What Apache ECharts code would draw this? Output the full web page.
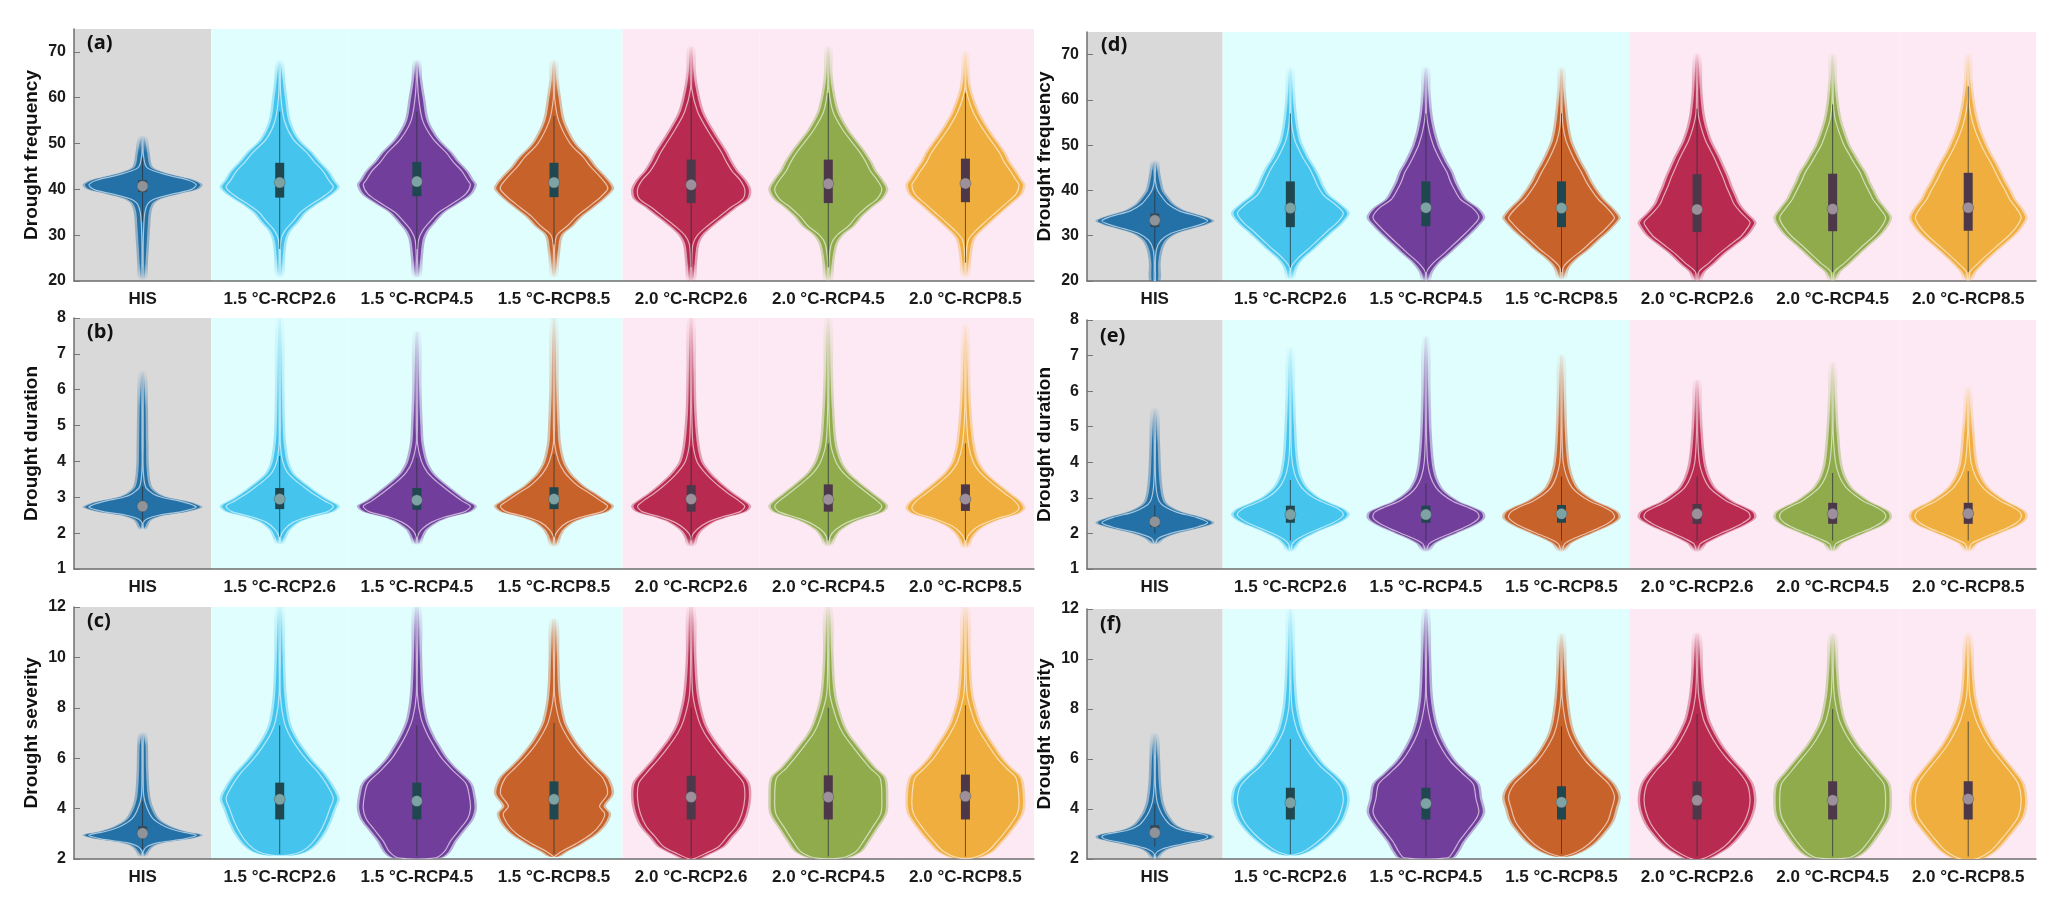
<!DOCTYPE html>
<html><head><meta charset="utf-8">
<script src="https://cdn.jsdelivr.net/npm/echarts@6/dist/echarts.min.js"></script>
<style>html,body{margin:0;padding:0;background:#fff}#c{width:2068px;height:916px}</style>
</head><body><div id="c"></div><script>
// ---------- categories / labels ----------
const categories = ['HIS','1.5 °C-RCP2.6','1.5 °C-RCP4.5','1.5 °C-RCP8.5','2.0 °C-RCP2.6','2.0 °C-RCP4.5','2.0 °C-RCP8.5'];
const categoryGroup = [0,1,1,1,2,2,2];
const panelTags = ['(a)','(b)','(c)','(d)','(e)','(f)'];
const yNames = ['Drought frequency','Drought duration','Drought severity'];
const freqTicks = [20,30,40,50,60,70];
const freqAxisMax = 75;
const durTicks = [1,2,3,4,5,6,7,8];
const sevTicks = [2,4,6,8,10,12];

// ---------- violin profiles: [value, relative half-width] ----------
const freqLeftProfiles = [
 [[20.5,0.03],[24,0.05],[28,0.07],[32,0.09],[35,0.11],[37,0.17],[38,0.3],[39,0.6],[40,0.92],[41,1.0],[42,0.87],[43,0.54],[44,0.27],[45,0.13],[48,0.08],[51.5,0.03]],
 [[21,0.03],[25,0.05],[29,0.09],[31,0.16],[33,0.3],[35,0.43],[37,0.65],[39,0.89],[40.5,1.0],[42,0.92],[44,0.82],[46,0.67],[48,0.54],[51,0.3],[55,0.15],[60,0.09],[64,0.05],[68,0.02]],
 [[21,0.03],[25,0.06],[29,0.1],[31,0.17],[33,0.3],[35,0.45],[37,0.7],[39,0.92],[41,1.0],[42,0.95],[44,0.85],[46,0.7],[48,0.58],[51,0.35],[55,0.17],[60,0.1],[64,0.05],[68,0.02]],
 [[21,0.02],[23,0.04],[27,0.07],[30,0.12],[32,0.3],[34,0.45],[36,0.65],[38,0.85],[40,1.0],[41,0.98],[43,0.85],[45,0.7],[47,0.58],[50,0.35],[55,0.15],[60,0.08],[64,0.04],[68,0.02]],
 [[20,0.03],[24,0.06],[28,0.1],[30,0.18],[32,0.35],[34,0.55],[36,0.75],[38,0.97],[40,1.0],[42,0.92],[44,0.78],[46,0.68],[48,0.6],[50,0.5],[53,0.35],[57,0.18],[62,0.08],[66,0.04],[71,0.02]],
 [[20,0.03],[24,0.06],[28,0.12],[30,0.22],[32,0.42],[34,0.55],[36,0.72],[38,0.92],[40,1.0],[42,0.92],[44,0.8],[46,0.72],[48,0.62],[50,0.5],[53,0.32],[57,0.15],[62,0.06],[66,0.03],[71,0.02]],
 [[21,0.03],[25,0.06],[29,0.12],[31,0.25],[33,0.42],[35,0.6],[37,0.78],[39,0.95],[41,1.0],[42,0.95],[44,0.85],[46,0.74],[48,0.66],[50,0.55],[53,0.38],[57,0.2],[62,0.06],[66,0.03],[70,0.02]]
];
const durLeftProfiles = [
 [[2.1,0.02],[2.2,0.05],[2.3,0.08],[2.4,0.15],[2.5,0.35],[2.6,0.75],[2.72,1.0],[2.8,0.92],[2.9,0.7],[3.0,0.4],[3.1,0.25],[3.3,0.12],[3.8,0.07],[4.5,0.06],[5.5,0.05],[6.5,0.02]],
 [[1.7,0.03],[1.9,0.08],[2.1,0.15],[2.3,0.3],[2.45,0.55],[2.6,0.9],[2.75,1.0],[2.9,0.85],[3.1,0.65],[3.3,0.48],[3.5,0.32],[3.7,0.2],[4.0,0.12],[4.5,0.07],[5.0,0.05],[6.0,0.04],[8,0.02]],
 [[1.7,0.03],[1.9,0.08],[2.1,0.15],[2.3,0.32],[2.45,0.55],[2.6,0.9],[2.75,1.0],[2.9,0.85],[3.1,0.68],[3.3,0.52],[3.5,0.37],[3.7,0.25],[4.0,0.15],[4.5,0.08],[5.0,0.06],[6.0,0.04],[7.6,0.02]],
 [[1.65,0.03],[1.9,0.08],[2.1,0.15],[2.3,0.3],[2.45,0.55],[2.6,0.9],[2.75,1.0],[2.9,0.88],[3.1,0.7],[3.3,0.5],[3.5,0.36],[3.7,0.25],[4.0,0.15],[4.5,0.08],[5.0,0.06],[6.0,0.04],[8,0.02]],
 [[1.65,0.03],[1.9,0.08],[2.1,0.17],[2.3,0.35],[2.45,0.6],[2.6,0.92],[2.75,1.0],[2.9,0.9],[3.1,0.72],[3.3,0.56],[3.5,0.42],[3.7,0.3],[4.0,0.17],[4.5,0.1],[5.5,0.05],[6.5,0.04],[8,0.02]],
 [[1.65,0.03],[1.9,0.1],[2.1,0.2],[2.3,0.4],[2.45,0.65],[2.6,0.93],[2.75,1.0],[2.9,0.92],[3.1,0.76],[3.3,0.6],[3.5,0.45],[3.7,0.32],[4.0,0.2],[4.5,0.11],[5.5,0.06],[6.5,0.04],[8,0.02]],
 [[1.6,0.03],[1.8,0.07],[2.0,0.15],[2.2,0.3],[2.4,0.6],[2.55,0.9],[2.7,1.0],[2.9,0.92],[3.1,0.76],[3.3,0.6],[3.5,0.45],[3.7,0.32],[4.0,0.2],[4.5,0.12],[5.5,0.06],[6.5,0.04],[7.8,0.02]]
];
const sevLeftProfiles = [
 [[2.1,0.03],[2.3,0.07],[2.5,0.15],[2.65,0.35],[2.8,0.8],[2.95,1.0],[3.1,0.7],[3.3,0.45],[3.6,0.25],[4.0,0.15],[4.5,0.09],[5.5,0.06],[6.5,0.05],[7,0.02]],
 [[2.15,0.22],[2.3,0.45],[2.6,0.62],[3.0,0.75],[3.5,0.86],[4.0,0.94],[4.4,1.0],[4.9,0.9],[5.4,0.75],[5.9,0.55],[6.4,0.38],[7.0,0.22],[7.5,0.14],[8.5,0.08],[10,0.05],[12,0.03]],
 [[2.05,0.4],[2.3,0.55],[2.7,0.65],[3.2,0.82],[3.6,0.95],[4.0,1.0],[4.5,0.98],[5.0,0.92],[5.5,0.7],[6.0,0.5],[6.5,0.36],[7.0,0.24],[7.6,0.14],[8.5,0.08],[10,0.05],[12,0.03]],
 [[2.1,0.06],[2.3,0.2],[2.6,0.45],[3.0,0.72],[3.4,0.88],[3.8,0.95],[4.1,0.86],[4.6,1.0],[5.2,0.92],[5.6,0.75],[6.0,0.58],[6.5,0.4],[7.0,0.26],[7.5,0.16],[8.5,0.08],[10,0.05],[11.5,0.03]],
 [[2.0,0.1],[2.2,0.3],[2.5,0.55],[2.9,0.7],[3.3,0.85],[3.8,0.95],[4.4,1.0],[5.0,0.98],[5.4,0.85],[6.0,0.62],[6.5,0.45],[7.0,0.3],[7.5,0.2],[8.5,0.1],[10,0.05],[12,0.03]],
 [[2.05,0.3],[2.3,0.55],[2.7,0.68],[3.2,0.82],[3.8,0.98],[4.3,1.0],[5.2,0.97],[5.6,0.8],[6.0,0.65],[6.5,0.48],[7.0,0.32],[7.5,0.22],[8.5,0.1],[10,0.05],[12,0.03]],
 [[2.05,0.2],[2.3,0.45],[2.7,0.62],[3.2,0.8],[3.8,0.97],[4.3,1.0],[5.2,0.95],[5.6,0.78],[6.0,0.62],[6.5,0.47],[7.0,0.33],[7.5,0.22],[8.5,0.1],[10,0.05],[12,0.03]]
];
const freqRightProfiles = [
 [[20,0.05],[24,0.06],[27,0.1],[29,0.18],[30.5,0.35],[31.5,0.6],[32.5,0.88],[33.3,1.0],[34.2,0.85],[35.5,0.5],[37,0.3],[38.5,0.2],[40,0.12],[42,0.08],[44,0.05],[46.5,0.02]],
 [[20.5,0.03],[23,0.08],[25,0.2],[27,0.38],[29,0.55],[31,0.72],[33,0.9],[35,1.0],[37,0.85],[39,0.65],[41,0.55],[43,0.48],[45,0.4],[47,0.3],[49,0.22],[51,0.15],[54,0.1],[58,0.06],[62,0.04],[67,0.02]],
 [[20,0.03],[22,0.08],[24,0.2],[26,0.38],[28,0.55],[30,0.72],[32,0.88],[34,1.0],[36,0.9],[38,0.68],[40,0.58],[42,0.5],[44,0.44],[46,0.35],[48,0.27],[50,0.2],[53,0.13],[57,0.07],[62,0.04],[67,0.02]],
 [[20.5,0.03],[23,0.1],[25,0.25],[27,0.45],[29,0.62],[31,0.8],[33,0.95],[34,1.0],[36,0.88],[38,0.72],[40,0.6],[42,0.5],[44,0.42],[46,0.33],[48,0.25],[51,0.15],[54,0.1],[58,0.06],[63,0.03],[67,0.02]],
 [[20,0.03],[22,0.1],[24,0.28],[26,0.45],[28,0.65],[30,0.85],[32,0.97],[33,1.0],[35,0.85],[37,0.72],[39,0.65],[41,0.58],[43,0.52],[45,0.45],[47,0.38],[49,0.3],[51,0.22],[54,0.14],[57,0.09],[62,0.05],[70,0.02]],
 [[20,0.03],[22,0.1],[24,0.28],[26,0.45],[28,0.62],[30,0.8],[32,0.93],[34,1.0],[36,0.9],[38,0.78],[40,0.7],[42,0.62],[44,0.55],[46,0.45],[48,0.36],[50,0.27],[53,0.18],[56,0.11],[60,0.06],[65,0.03],[70,0.02]],
 [[20,0.03],[22,0.1],[24,0.25],[26,0.42],[28,0.6],[30,0.78],[32,0.92],[34,1.0],[36,0.92],[38,0.8],[40,0.72],[42,0.63],[44,0.55],[46,0.47],[48,0.38],[50,0.3],[53,0.2],[56,0.13],[60,0.07],[65,0.03],[70,0.02]]
];
const durRightProfiles = [
 [[1.7,0.03],[1.85,0.12],[2.0,0.35],[2.15,0.75],[2.3,1.0],[2.45,0.8],[2.6,0.45],[2.75,0.25],[2.9,0.15],[3.2,0.1],[3.7,0.07],[4.5,0.05],[5.5,0.02]],
 [[1.5,0.03],[1.7,0.1],[1.85,0.2],[2.0,0.38],[2.15,0.6],[2.3,0.82],[2.45,0.97],[2.55,1.0],[2.7,0.9],[2.85,0.68],[3.0,0.48],[3.2,0.32],[3.4,0.22],[3.7,0.14],[4.2,0.09],[5,0.06],[6,0.04],[7.2,0.02]],
 [[1.5,0.03],[1.7,0.12],[1.85,0.28],[2.0,0.5],[2.15,0.72],[2.3,0.9],[2.45,1.0],[2.6,0.97],[2.75,0.78],[2.9,0.55],[3.1,0.36],[3.3,0.24],[3.6,0.15],[4.0,0.1],[4.8,0.06],[6,0.04],[7.5,0.02]],
 [[1.5,0.03],[1.7,0.12],[1.85,0.28],[2.0,0.5],[2.15,0.72],[2.3,0.9],[2.45,1.0],[2.6,0.96],[2.75,0.8],[2.9,0.58],[3.1,0.38],[3.3,0.25],[3.6,0.16],[4.0,0.1],[4.8,0.06],[6,0.04],[7,0.02]],
 [[1.5,0.03],[1.7,0.12],[1.85,0.28],[2.0,0.48],[2.15,0.7],[2.3,0.88],[2.45,1.0],[2.6,0.97],[2.75,0.8],[2.9,0.6],[3.1,0.42],[3.3,0.28],[3.6,0.18],[4.0,0.11],[4.8,0.06],[5.6,0.04],[6.3,0.02]],
 [[1.5,0.03],[1.7,0.12],[1.85,0.3],[2.0,0.52],[2.15,0.75],[2.3,0.92],[2.45,1.0],[2.6,0.97],[2.75,0.82],[2.9,0.62],[3.1,0.44],[3.3,0.3],[3.6,0.19],[4.0,0.12],[4.8,0.07],[5.8,0.04],[6.8,0.02]],
 [[1.5,0.03],[1.7,0.12],[1.85,0.3],[2.0,0.52],[2.15,0.75],[2.3,0.92],[2.45,1.0],[2.6,0.98],[2.75,0.84],[2.9,0.65],[3.1,0.46],[3.3,0.32],[3.6,0.2],[4.0,0.12],[4.8,0.07],[5.5,0.04],[6.1,0.02]]
];
const sevRightProfiles = [
 [[2.0,0.03],[2.2,0.08],[2.4,0.2],[2.6,0.55],[2.8,0.95],[2.9,1.0],[3.0,0.9],[3.15,0.55],[3.35,0.35],[3.6,0.25],[3.9,0.17],[4.3,0.11],[5,0.07],[6,0.05],[7,0.02]],
 [[2.15,0.1],[2.3,0.3],[2.6,0.5],[3.0,0.7],[3.5,0.88],[4.0,0.97],[4.4,1.0],[4.9,0.95],[5.3,0.8],[5.7,0.6],[6.2,0.42],[6.7,0.28],[7.2,0.18],[8,0.1],[9,0.06],[10.5,0.04],[12,0.02]],
 [[2.05,0.45],[2.3,0.55],[2.7,0.65],[3.2,0.82],[3.6,0.95],[3.9,1.0],[4.4,0.95],[5.0,0.9],[5.4,0.72],[5.9,0.5],[6.4,0.35],[7.0,0.22],[7.6,0.14],[8.5,0.08],[10,0.05],[12,0.02]],
 [[2.1,0.1],[2.3,0.35],[2.6,0.55],[3.0,0.72],[3.5,0.88],[4.0,0.95],[4.5,1.0],[5.0,0.9],[5.4,0.72],[5.9,0.5],[6.4,0.34],[7.0,0.2],[7.6,0.13],[8.5,0.08],[9.5,0.05],[11,0.02]],
 [[2.0,0.15],[2.2,0.35],[2.5,0.55],[2.9,0.72],[3.4,0.88],[3.9,0.97],[4.4,1.0],[5.0,0.95],[5.5,0.8],[6.0,0.6],[6.5,0.43],[7.0,0.3],[7.6,0.18],[8.5,0.1],[9.5,0.06],[11,0.03]],
 [[2.05,0.35],[2.3,0.55],[2.7,0.7],[3.2,0.85],[3.7,0.97],[4.3,1.0],[5.0,0.97],[5.5,0.8],[6.0,0.62],[6.5,0.44],[7.0,0.3],[7.6,0.18],[8.5,0.1],[9.5,0.06],[11,0.03]],
 [[2.0,0.2],[2.3,0.45],[2.7,0.62],[3.2,0.8],[3.7,0.95],[4.3,1.0],[5.0,0.95],[5.5,0.8],[6.0,0.62],[6.5,0.45],[7.0,0.32],[7.6,0.2],[8.5,0.1],[9.5,0.06],[11,0.03]]
];

// ---------- box stats: [whiskerLow, q1, median, q3, whiskerHigh] ----------
const freqLeftBoxes = [[33,39.4,40.7,42,47],[27,38.2,41.5,45.8,57],[27,38.5,41.7,46,57],[28,38.3,41.5,45.8,56],[23,37,41,46.5,60],[23,37,41.2,46.5,61],[24,37.2,41.3,46.7,61]];
const durLeftBoxes = [[2.3,2.64,2.75,2.87,3.3],[1.9,2.67,2.95,3.26,4.15],[1.9,2.65,2.92,3.26,4.1],[1.9,2.67,2.95,3.28,4.2],[1.8,2.6,2.95,3.34,4.4],[1.8,2.6,2.94,3.36,4.5],[1.8,2.62,2.95,3.36,4.5]];
const sevLeftBoxes = [[2.4,2.93,3.02,3.3,4.3],[2.2,3.57,4.37,5.03,7.3],[2.1,3.57,4.3,5.03,7.3],[2.2,3.57,4.37,5.08,7.4],[2.1,3.57,4.46,5.3,8.0],[2.1,3.57,4.46,5.32,8.0],[2.1,3.57,4.49,5.35,8.1]];
const freqRightBoxes = [[27,31.9,33.4,34.9,40],[23,31.9,36.1,42,57],[22,32.1,36.2,42,57],[22,31.9,36.1,42,57],[22,30.8,35.8,43.6,58],[22,31,35.9,43.7,59],[22,31.1,36.2,43.9,63]];
const durRightBoxes = [[2.0,2.18,2.33,2.44,2.8],[1.8,2.3,2.53,2.78,3.5],[1.8,2.3,2.53,2.78,3.4],[1.8,2.3,2.55,2.8,3.6],[1.8,2.27,2.55,2.83,3.6],[1.8,2.27,2.55,2.86,3.7],[1.8,2.27,2.56,2.86,3.75]];
const sevRightBoxes = [[2.5,2.95,3.05,3.35,4.2],[2.2,3.58,4.25,4.85,6.8],[2.1,3.58,4.22,4.85,6.8],[2.2,3.58,4.27,4.91,7.3],[2.1,3.58,4.35,5.1,7.8],[2.1,3.58,4.35,5.11,8.0],[2.1,3.58,4.4,5.11,7.5]];

// ---------- styles ----------
const violinColors = ['#2471a8','#45c5ee','#723e9c','#c8622b','#b82a50','#8fab4b','#f0ae3f'];
const groupBg = ['#d9d9d9','#e0fefe','#fde9f3'];
const groupBox = ['#34495a','#1f4750','#4c3849'];
const groupMedian = ['#8e9499','#7ea3a4','#9d909b'];
const FONT = '"Liberation Sans", Arial, sans-serif';

function hexA(hex,a){const n=parseInt(hex.slice(1),16);return 'rgba('+((n>>16)&255)+','+((n>>8)&255)+','+(n&255)+','+a+')';}

function makeViolin(profiles, boxes){
  return function(params, api){
    const k = api.value(0);
    const prof = profiles[k], bx = boxes[k];
    const band = api.size([1,0])[0];
    const maxHalf = band*0.42;
    const cx = api.coord([k, prof[0][0]])[0];
    const pts = prof.map(p=>[api.coord([k,p[0]])[1], p[1]*maxHalf]);
    const yBot = pts[0][0], yTop = pts[pts.length-1][0];
    let iHi = prof.length-1; while(iHi>0 && prof[iHi][1]<0.05) iHi--;
    let iLo = 0; while(iLo<prof.length-1 && prof[iLo][1]<0.05) iLo++;
    const span = yBot - yTop;
    const oTop = Math.max(0.001,(pts[iHi][0]-yTop)/span), oBot = Math.min(0.999,(pts[iLo][0]-yTop)/span);
    const grad = (c,a)=> new echarts.graphic.LinearGradient(0,0,0,1,[
      {offset:0,color:hexA(c,a*0.08)},{offset:oTop,color:hexA(c,a)},
      {offset:Math.max(oTop,oBot),color:hexA(c,a)},{offset:1,color:hexA(c,a*0.08)}]);
    const outline = (d)=>{const r=[],l=[];
      pts.forEach(p=>r.push([cx+Math.max(0.6,p[1]+d),p[0]]));
      for(let i=pts.length-1;i>=0;i--) l.push([cx-Math.max(0.6,pts[i][1]+d),pts[i][0]]);
      return r.concat(l);};
    const col = violinColors[k], g = categoryGroup[k];
    const w0 = api.coord([k,bx[0]]), w1 = api.coord([k,bx[4]]);
    const q1 = api.coord([k,bx[1]]), q3 = api.coord([k,bx[3]]), md = api.coord([k,bx[2]]);
    return {type:'group', children:[
      {type:'polygon', shape:{points:outline(2.5), smooth:0.3}, style:{fill:grad(col,0.4)}},
      {type:'polygon', shape:{points:outline(0), smooth:0.3}, style:{fill:grad(col,1)}},
      {type:'polygon', shape:{points:outline(-4), smooth:0.3}, style:{fill:null, stroke:grad('#ffffff',0.6), lineWidth:1.2}},
      {type:'line', shape:{x1:cx,y1:w0[1],x2:cx,y2:w1[1]}, style:{stroke:'rgba(40,50,55,0.75)', lineWidth:1}},
      {type:'rect', shape:{x:cx-4.5,y:q3[1],width:9,height:q1[1]-q3[1]}, style:{fill:groupBox[g]}},
      {type:'circle', shape:{cx:cx,cy:md[1],r:5.5}, style:{fill:groupMedian[g], stroke:'rgba(60,70,75,0.35)', lineWidth:1}}
    ]};
  };
}
function makeBg(yMin,yMax){
  return function(params, api){
    const k = api.value(0), g = categoryGroup[k];
    const band = api.size([1,0])[0];
    const p0 = api.coord([k,yMax]), p1 = api.coord([k,yMin]);
    return {type:'rect', shape:{x:p0[0]-band/2, y:p0[1], width:band, height:p1[1]-p0[1]}, style:{fill:groupBg[g]}};
  };
}

const panels = [
  {grid:{left:74,top:29,width:960,height:252}, ticks:freqTicks, max:freqAxisMax, name:yNames[0], prof:freqLeftProfiles, box:freqLeftBoxes, tag:[87,33]},
  {grid:{left:74,top:318,width:960,height:251}, ticks:durTicks, max:durTicks[durTicks.length-1], name:yNames[1], prof:durLeftProfiles, box:durLeftBoxes, tag:[87,322]},
  {grid:{left:74,top:607,width:960,height:252}, ticks:sevTicks, max:sevTicks[sevTicks.length-1], name:yNames[2], prof:sevLeftProfiles, box:sevLeftBoxes, tag:[87,611]},
  {grid:{left:1087,top:32,width:949,height:249}, ticks:freqTicks, max:freqAxisMax, name:yNames[0], prof:freqRightProfiles, box:freqRightBoxes, tag:[1101,35]},
  {grid:{left:1087,top:320,width:949,height:249}, ticks:durTicks, max:durTicks[durTicks.length-1], name:yNames[1], prof:durRightProfiles, box:durRightBoxes, tag:[1100,326]},
  {grid:{left:1087,top:609,width:949,height:250}, ticks:sevTicks, max:sevTicks[sevTicks.length-1], name:yNames[2], prof:sevRightProfiles, box:sevRightBoxes, tag:[1100,614]}
];

const option = {
  animation:false,
  backgroundColor:'#ffffff',
  title: panels.map((p,i)=>({text:panelTags[i], left:p.tag[0], top:p.tag[1], padding:0,
    textStyle:{fontSize:20, fontWeight:'bold', color:'#111', fontFamily:'"Open Sans", sans-serif'}})),
  grid: panels.map(p=>p.grid),
  xAxis: panels.map((p,i)=>({gridIndex:i, type:'category', data:categories, z:2,
    axisLine:{lineStyle:{color:'#6e6e6e', width:1.5}},
    axisTick:{inside:true, alignWithLabel:true, length:8, lineStyle:{color:'#777', width:1}},
    axisLabel:{interval:0, fontSize:17, fontWeight:'bold', color:'#1a1a1a', margin:10, fontFamily:FONT},
    splitLine:{show:false}})),
  yAxis: panels.map((p,i)=>({gridIndex:i, type:'value', z:2,
    min:p.ticks[0], max:p.max, interval:p.ticks[1]-p.ticks[0],
    name:p.name, nameLocation:'middle', nameGap:33,
    nameTextStyle:{fontSize:19, fontWeight:'bold', color:'#111', fontFamily:FONT},
    axisLine:{show:true, lineStyle:{color:'#6e6e6e', width:1.5}},
    axisTick:{show:true, inside:true, length:6, lineStyle:{color:'#777'}},
    axisLabel:{fontSize:16, fontWeight:'bold', color:'#1a1a1a', margin:8, fontFamily:FONT, showMaxLabel: p.max===p.ticks[p.ticks.length-1]},
    splitLine:{show:false}})),
  series: [].concat(
    panels.map((p,i)=>({type:'custom', xAxisIndex:i, yAxisIndex:i, z:1, silent:true,
      data:categories.map((c,k)=>[k,p.ticks[0]]), encode:{x:0,y:1},
      renderItem:makeBg(p.ticks[0],p.max)})),
    panels.map((p,i)=>({type:'custom', xAxisIndex:i, yAxisIndex:i, z:3, clip:true,
      data:categories.map((c,k)=>[k,p.box[k][2]]), encode:{x:0,y:1},
      renderItem:makeViolin(p.prof,p.box)}))
  )
};
const chart = echarts.init(document.getElementById('c'));
chart.setOption(option);
</script></body></html>
